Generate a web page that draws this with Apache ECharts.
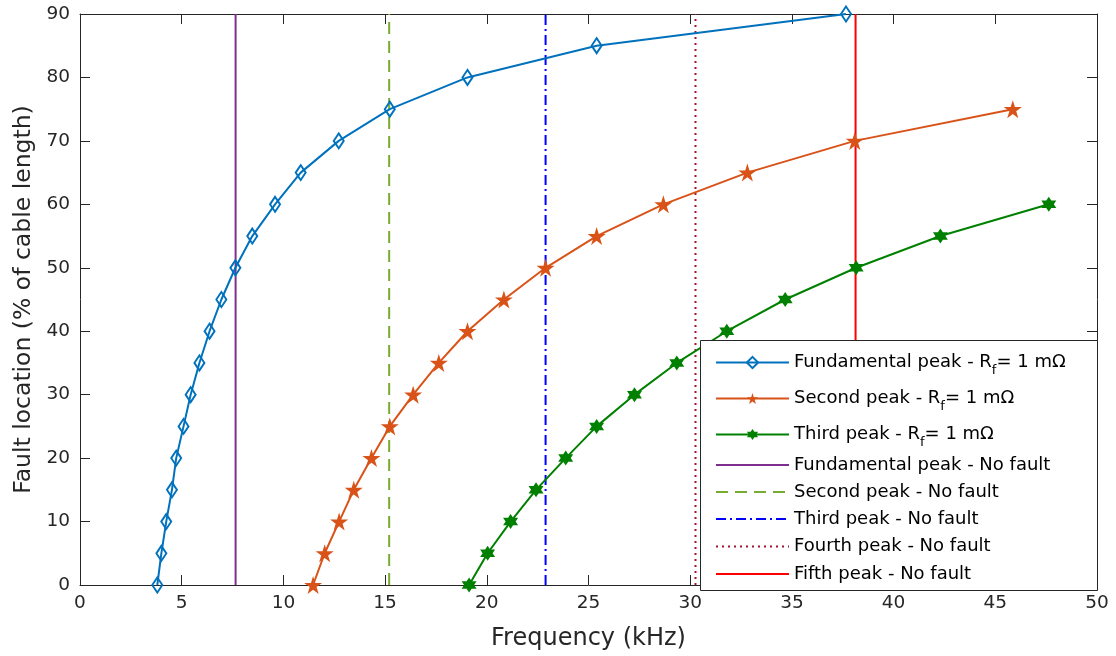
<!DOCTYPE html>
<html>
<head>
<meta charset="utf-8">
<script src="https://cdn.jsdelivr.net/npm/echarts@6/dist/echarts.min.js"></script>
<style>html,body{margin:0;padding:0;background:#fff}#c{width:1116px;height:656px}</style>
</head>
<body>
<div id="c"></div>
<script>
// ---- data ----
const fundLoc = [0,5,10,15,20,25,30,35,40,45,50,55,60,65,70,75,80,85,90];
const fundFreq = [3.80,4.00,4.24,4.52,4.73,5.09,5.44,5.87,6.37,6.95,7.64,8.47,9.59,10.85,12.72,15.23,19.05,25.40,37.66];
const secondLoc = [0,5,10,15,20,25,30,35,40,45,50,55,60,65,70,75];
const secondFreq = [11.46,12.03,12.74,13.46,14.33,15.23,16.38,17.64,19.05,20.84,22.89,25.40,28.68,32.81,38.09,45.86];
const thirdLoc = [0,5,10,15,20,25,30,35,40,45,50,55,60];
const thirdFreq = [19.13,20.04,21.17,22.42,23.88,25.40,27.26,29.34,31.80,34.67,38.16,42.30,47.63];
const noFaultFreq = [7.65,15.20,22.89,30.26,38.13];
const noFaultNames = ['Fundamental peak - No fault','Second peak - No fault','Third peak - No fault','Fourth peak - No fault','Fifth peak - No fault'];
const faultNames = ['Fundamental peak - Rf= 1 mΩ','Second peak - Rf= 1 mΩ','Third peak - Rf= 1 mΩ'];
const locRange = [0, 90];
const xTicks = {min:0, max:50, interval:5};
const yTicks = {min:0, max:90, interval:10};

// ---- styles ----
const FONT = 'DejaVu Sans';
const TXT = '#262626';
const pentagram = 'path://M50 0 L61.23 34.55 L97.55 34.55 L68.16 55.9 L79.39 90.45 L50 69.1 L20.61 90.45 L31.84 55.9 L2.45 34.55 L38.77 34.55 Z';
const hexagram = 'path://M50 0 L64.43 25 L93.3 25 L78.87 50 L93.3 75 L64.43 75 L50 100 L35.57 75 L6.7 75 L21.13 50 L6.7 25 L35.57 25 Z';
const faultStyles = [
  {color:'#0072BD', symbol:'diamond', size:[10,15], fill:'rgba(255,255,255,0)', bw:2},
  {color:'#D95319', symbol:pentagram, size:18, fill:'#D95319', bw:0},
  {color:'#008000', symbol:hexagram, size:15, fill:'#008000', bw:0}
];
const nfStyles = [
  {color:'#7E2F8E', type:'solid'},
  {color:'#77AC30', type:[12,7]},
  {color:'#0000FF', type:[10,4,2,4]},
  {color:'#A2142F', type:[2,4]},
  {color:'#FF0000', type:'solid'}
];

function zipPts(xs, ys){ return xs.map((x,i)=>[x, ys[i]]); }
const faultData = [zipPts(fundFreq,fundLoc), zipPts(secondFreq,secondLoc), zipPts(thirdFreq,thirdLoc)];

const series = [];
faultNames.forEach((n,i)=>{
  const s = faultStyles[i];
  series.push({
    name:n, type:'line', data:faultData[i], symbol:s.symbol, symbolSize:s.size,
    showAllSymbol:true, z:2,
    lineStyle:{color:s.color, width:2},
    itemStyle:{color:s.fill, borderColor:s.color, borderWidth:s.bw},
    emphasis:{disabled:true}, animation:false
  });
});
noFaultNames.forEach((n,i)=>{
  const s = nfStyles[i];
  series.push({
    name:n, type:'line', data:[[noFaultFreq[i], locRange[0]],[noFaultFreq[i], locRange[1]]],
    symbol:'none', z:1,
    lineStyle:{color:s.color, width:2, type:s.type},
    itemStyle:{color:s.color},
    emphasis:{disabled:true}, animation:false
  });
});

// legend rows (centres measured in px)
const rowCenters = [360, 396, 432, 465, 492, 519, 546.5, 574];
const allNames = faultNames.concat(noFaultNames);
const legends = allNames.map((n,i)=>{
  const lg = {
    data:[n], left:715, top:rowCenters[i]-12, orient:'vertical',
    itemWidth:73, itemHeight:14, itemGap:0, padding:0, selectedMode:false,
    textStyle:{fontFamily:FONT, fontSize:18, color:'#000', lineHeight:24, padding:[0,0,0,0],
      rich:{ sub:{fontFamily:FONT, fontSize:13, color:'#000', padding:[16,0,0,0], lineHeight:14} }
    },
    formatter:(name)=>name.replace('Rf=', 'R{sub|f}=')
  };
  if (i >= faultNames.length) lg.itemStyle = {opacity:0};
  return lg;
});

const axisLineStyle = {color:TXT, width:1};
const option = {
  animation:false,
  backgroundColor:'#fff',
  grid:{left:80, right:19, top:14, bottom:65, containLabel:false},
  xAxis:[
    {type:'value', min:xTicks.min, max:xTicks.max, interval:xTicks.interval,
     name:'Frequency (kHz)', nameLocation:'middle', nameGap:42,
     nameTextStyle:{fontFamily:FONT, fontSize:24, color:TXT},
     axisLine:{show:true, onZero:false, lineStyle:axisLineStyle},
     axisTick:{show:true, inside:true, length:10, lineStyle:axisLineStyle},
     axisLabel:{fontFamily:FONT, fontSize:18.5, color:TXT, margin:9},
     splitLine:{show:false}},
    {type:'value', position:'top', min:xTicks.min, max:xTicks.max, interval:xTicks.interval,
     axisLine:{show:true, onZero:false, lineStyle:axisLineStyle},
     axisTick:{show:true, inside:true, length:10, lineStyle:axisLineStyle},
     axisLabel:{show:false}, splitLine:{show:false}}
  ],
  yAxis:[
    {type:'value', min:yTicks.min, max:yTicks.max, interval:yTicks.interval,
     name:'Fault location (% of cable length)', nameLocation:'middle', nameGap:42,
     nameTextStyle:{fontFamily:FONT, fontSize:23.5, color:TXT},
     axisLine:{show:true, onZero:false, lineStyle:axisLineStyle},
     axisTick:{show:true, inside:true, length:10, lineStyle:axisLineStyle},
     axisLabel:{fontFamily:FONT, fontSize:18.5, color:TXT, margin:10},
     splitLine:{show:false}},
    {type:'value', position:'right', min:yTicks.min, max:yTicks.max, interval:yTicks.interval,
     axisLine:{show:true, onZero:false, lineStyle:axisLineStyle},
     axisTick:{show:true, inside:true, length:10, lineStyle:axisLineStyle},
     axisLabel:{show:false}, splitLine:{show:false}}
  ],
  legend:legends,
  graphic:[{type:'rect', z:3, shape:{x:700.5, y:340.5, width:397, height:250},
    style:{fill:'#fff', stroke:TXT, lineWidth:1}}],
  series:series
};
const chart = echarts.init(document.getElementById('c'), null, {renderer:'canvas'});
chart.setOption(option);
</script>
</body>
</html>
